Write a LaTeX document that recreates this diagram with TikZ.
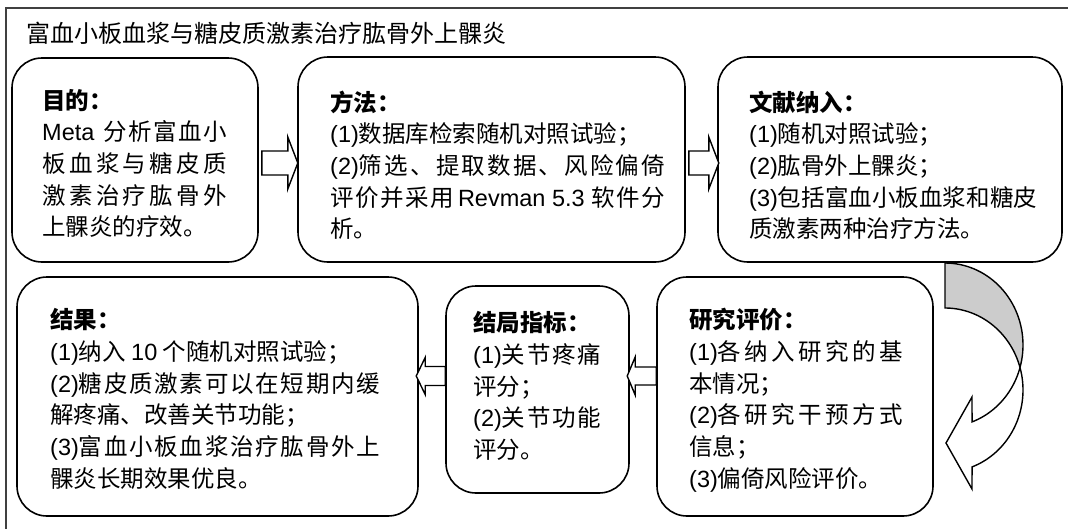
\documentclass[tikz,border=0pt]{standalone}
\usepackage{fontspec}
\setmainfont{Noto Sans CJK SC}
\newfontfamily\latinf{Liberation Sans}
\newcommand\la[1]{{\latinf #1}}
\usetikzlibrary{calc}
\newcount\cjkc
\cjkc="4E00
\loop \XeTeXcharclass\cjkc=1 \advance\cjkc by 1 \ifnum\cjkc<"A000 \repeat
\XeTeXcharclass"3001=1 \XeTeXcharclass"3002=1 \XeTeXcharclass"FF1A=1 \XeTeXcharclass"FF1B=1
\XeTeXinterchartoks 1 1 = {\nobreak\hskip 0pt plus 1pt\relax}
\XeTeXinterchartoks 0 1 = {\nobreak\hskip 0pt plus 1pt\relax}
\XeTeXinterchartoks 1 0 = {\nobreak\hskip 0pt plus 1pt\relax}
\XeTeXinterchartokenstate=1
\hbadness=10000
\hfuzz=5pt
\tikzset{
  boxst/.style={draw=black, line width=1.6pt, rounded corners=30pt, inner sep=0pt, fill=white},
  txt/.style={inner sep=0pt, anchor=base west, align=justify, font=\fontsize{23.5}{31.7}\selectfont},
  barrow/.style={draw=black, line width=1.4pt, fill=white, line join=miter},
  carrow/.style={draw=black, line width=1.4pt, line join=miter},
}
\begin{document}
\begin{tikzpicture}[x=1pt, y=-1pt]
\useasboundingbox (0,0) rectangle (1068,528);
% outer frame
\draw[line width=1.4pt, draw=black!75] (6,530) -- (6,8) -- (1070,8);
\node[font=\fontsize{24}{28}\selectfont, anchor=base west, inner sep=0pt] (title) at (26,42) {富血小板血浆与糖皮质激素治疗肱骨外上髁炎};
% boxes
\node[boxst, minimum width=246, minimum height=204] (b1) at (135,160) {};
\node[boxst, minimum width=387, minimum height=205] (b2) at (491.5,159.5) {};
\node[boxst, minimum width=344, minimum height=205] (b3) at (890,159.5) {};
\node[boxst, minimum width=401, minimum height=239] (b4) at (217.5,396.5) {};
\node[boxst, minimum width=183, minimum height=207] (b5) at (537.5,389.5) {};
\node[boxst, minimum width=276, minimum height=239] (b6) at (795,396.5) {};
% texts
\node[txt, text width=185] (t1) at (42,109) {\textbf{目的：}\\
\la{Meta} 分析富血小\linebreak
板血浆与糖皮质\linebreak
激素治疗肱骨外\linebreak
上髁炎的疗效。};
\node[txt, text width=335] (t2) at (330,111) {\textbf{方法：}\\
\la{(1)}数据库检索随机对照试验；\\
\la{(2)}筛选、提取数据、风险偏倚\linebreak
评价并采用\hskip 2pt plus 1pt\la{Revman\kern0.278em5.3}\hskip 5pt plus 1pt软件分\linebreak
析。};
\node[txt, text width=288] (t3) at (749,111) {\textbf{文献纳入：}\\
\la{(1)}随机对照试验；\\
\la{(2)}肱骨外上髁炎；\\
\la{(3)}包括富血小板血浆和糖皮\linebreak
质激素两种治疗方法。};
\node[txt, text width=330] (t4) at (50,328.6) {\textbf{结果：}\\
\la{(1)}纳入 \la{10} 个随机对照试验；\\
\la{(2)}糖皮质激素可以在短期内缓\linebreak
解疼痛、改善关节功能；\\
\la{(3)}富血小板血浆治疗肱骨外上\linebreak
髁炎长期效果优良。};
\node[txt, text width=128] (t5) at (473,331.6) {\textbf{结局指标：}\\
\la{(1)}关节疼痛\linebreak
评分；\\
\la{(2)}关节功能\linebreak
评分。};
\node[txt, text width=214] (t6) at (689,328.6) {\textbf{研究评价：}\\
\la{(1)}各纳入研究的基\linebreak
本情况；\\
\la{(2)}各研究干预方式\linebreak
信息；\\
\la{(3)}偏倚风险评价。};
% block arrows
\draw[barrow] (b1.east |- 0,151) ++(3,0) -- ++(26,0) -- ++(0,-14) -- ++(10,26) -- ++(-10,26) -- ++(0,-14) -- ++(-26,0) -- cycle;
\draw[barrow] (b2.east |- 0,151) ++(3,0) -- ++(20,0) -- ++(0,-14) -- ++(10,26) -- ++(-10,26) -- ++(0,-14) -- ++(-20,0) -- cycle;
\draw[barrow] (b6.west |- 0,367) -- ++(-21,0) -- ++(0,-10) -- ++(-8,19) -- ++(8,19) -- ++(0,-10) -- ++(21,0) -- cycle;
\draw[barrow] (b5.west |- 0,366.5) -- ++(-20,0) -- ++(0,-9) -- ++(-9,18.5) -- ++(9,18.5) -- ++(0,-9) -- ++(20,0) -- cycle;
% curved arrow from b3 to b6
\draw[carrow, fill=gray!40] plot[domain=-90:15.9, samples=40] ({945+78*cos(\x)},{345+82*sin(\x)}) -- plot[domain=-15.9:-90, samples=40] ({945+78*cos(\x)},{390+82*sin(\x)}) -- cycle;
\draw[carrow, fill=white] plot[domain=-15.9:69.7, samples=40] ({945+78*cos(\x)},{390+82*sin(\x)}) -- (972,489) -- (946,443) -- (972,397) -- plot[domain=69.7:15.9, samples=40] ({945+78*cos(\x)},{345+82*sin(\x)}) -- cycle;
\end{tikzpicture}
\end{document}
